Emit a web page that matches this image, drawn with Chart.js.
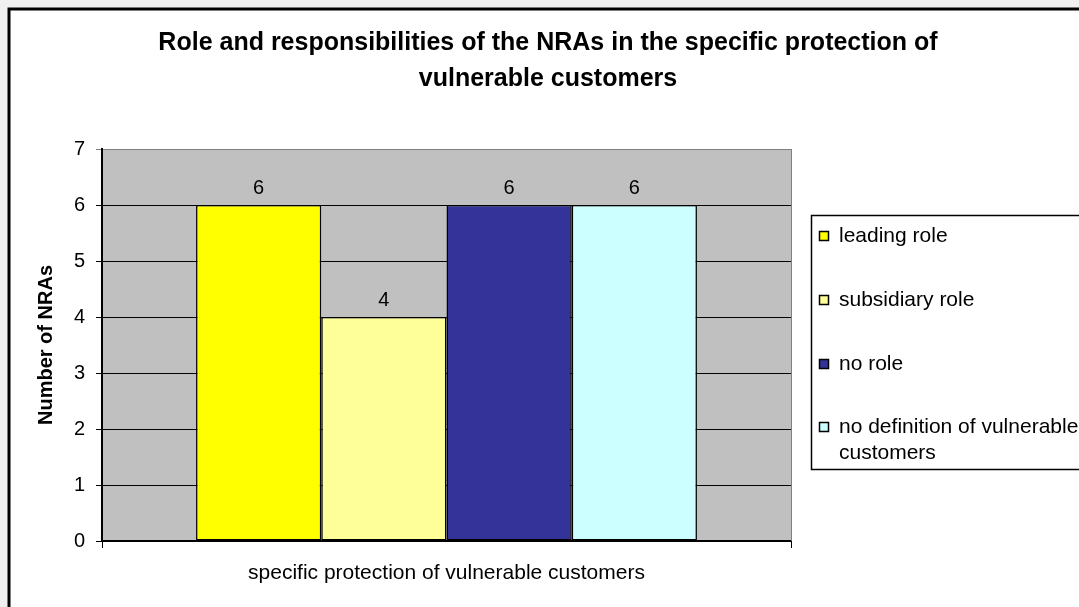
<!DOCTYPE html>
<html>
<head>
<meta charset="utf-8">
<script src="https://cdn.jsdelivr.net/npm/chart.js@4/dist/chart.umd.min.js"></script>
<style>
  html, body { margin: 0; padding: 0; background: #f0f0f0; }
  #wrap { width: 1079px; height: 607px; }
</style>
</head>
<body>
<div id="wrap"><canvas id="c" width="1079" height="607"></canvas></div>
<script>
// ---- data ----
const categories = ['specific protection of vulnerable customers'];
const seriesNames = ['leading role', 'subsidiary role', 'no role', 'no definition of vulnerable customers'];
const leadingRole = [6];
const subsidiaryRole = [4];
const noRole = [6];
const noDefinition = [6];
const yAxisMin = 0;
const yAxisMax = 7;
const titleLines = ['Role and responsibilities of the NRAs in the specific protection of', 'vulnerable customers'];
const yAxisTitle = 'Number of NRAs';

const seriesValues = [leadingRole, subsidiaryRole, noRole, noDefinition];
const seriesColors = ['#FFFF00', '#FFFF99', '#333399', '#CCFFFF'];
const FONT = "'Liberation Sans', Arial, sans-serif";

const framePlugin = {
  id: 'frame',
  beforeDraw(chart) {
    const ctx = chart.ctx;
    const W = chart.width, H = chart.height;
    ctx.save();
    ctx.fillStyle = '#f0f0f0';
    ctx.fillRect(0, 0, W, H);
    ctx.fillStyle = '#ffffff';
    ctx.fillRect(9, 9, W - 9, H - 9);
    ctx.strokeStyle = '#000000';
    ctx.lineWidth = 3;
    ctx.beginPath();
    ctx.moveTo(9, H + 2);
    ctx.lineTo(9, 9);
    ctx.lineTo(W + 2, 9);
    ctx.stroke();
    const a = chart.chartArea;
    ctx.fillStyle = '#C0C0C0';
    ctx.fillRect(a.left, a.top, a.right - a.left, a.bottom - a.top);
    ctx.restore();
  },
  beforeDatasetsDraw(chart) {
    const ctx = chart.ctx;
    const a = chart.chartArea;
    ctx.save();
    ctx.strokeStyle = '#808080';
    ctx.lineWidth = 1;
    ctx.beginPath();
    ctx.moveTo(Math.round(a.right) + 0.5, a.top);
    ctx.lineTo(Math.round(a.right) + 0.5, a.bottom);
    ctx.stroke();
    ctx.restore();
  },
  afterDatasetsDraw(chart) {
    const ctx = chart.ctx;
    ctx.save();
    ctx.font = '20px ' + FONT;
    ctx.fillStyle = '#000';
    ctx.textAlign = 'center';
    ctx.textBaseline = 'middle';
    chart.data.datasets.forEach((ds, i) => {
      const meta = chart.getDatasetMeta(i);
      meta.data.forEach((bar, j) => {
        ctx.fillText(String(ds.data[j]), bar.x, bar.y - 17);
      });
    });
    ctx.restore();
  },
  afterDraw(chart) {
    const ctx = chart.ctx;
    ctx.save();
    // title
    ctx.font = 'bold 25px ' + FONT;
    ctx.fillStyle = '#000';
    ctx.textAlign = 'center';
    ctx.textBaseline = 'middle';
    titleLines.forEach((t, i) => ctx.fillText(t, 548, 43 + i * 36));
    // legend
    const lx = 811, ly = 215, lh = 254;
    ctx.fillStyle = '#ffffff';
    ctx.fillRect(lx, ly, chart.width - lx + 5, lh);
    ctx.strokeStyle = '#000';
    ctx.lineWidth = 1.5;
    ctx.strokeRect(lx + 0.5, ly + 0.5, chart.width - lx + 5, lh);
    ctx.font = '21px ' + FONT;
    ctx.textAlign = 'left';
    const textX = 839;
    const maxW = chart.width - textX;
    const rowY = [236, 300, 364, 427];
    chart.data.datasets.forEach((ds, i) => {
      const words = ds.label.split(' ');
      const lines = [];
      let cur = '';
      words.forEach(w => {
        const test = cur ? cur + ' ' + w : w;
        if (ctx.measureText(test).width > maxW && cur) { lines.push(cur); cur = w; }
        else cur = test;
      });
      lines.push(cur);
      const y = rowY[i];
      ctx.fillStyle = ds.backgroundColor;
      ctx.fillRect(819, y - 5, 10, 10);
      ctx.strokeStyle = '#000';
      ctx.lineWidth = 1.5;
      ctx.strokeRect(819.5, y - 4.5, 9, 9);
      ctx.fillStyle = '#000';
      lines.forEach((ln, k) => ctx.fillText(ln, textX, y + k * 26));
    });
    ctx.restore();
  }
};

const datasets = seriesNames.map((name, i) => ({
  label: name,
  data: seriesValues[i],
  backgroundColor: seriesColors[i],
  borderColor: '#000000',
  borderWidth: 1.5,
  borderSkipped: false,
  categoryPercentage: 0.727,
  barPercentage: 1.0
}));

new Chart(document.getElementById('c'), {
  type: 'bar',
  data: { labels: categories, datasets },
  options: {
    responsive: false,
    animation: false,
    devicePixelRatio: 1,
    layout: { padding: { top: 149, right: 288, left: 0, bottom: 0 } },
    plugins: {
      legend: { display: false },
      title: { display: false },
      tooltip: { enabled: false }
    },
    scales: {
      x: {
        offset: true,
        grid: { offset: true, drawOnChartArea: false, tickLength: 7, color: '#000', lineWidth: 1 },
        border: { color: '#000', width: 2 },
        ticks: { color: '#000', font: { family: FONT, size: 21 }, padding: 13, maxRotation: 0, autoSkip: false },
        afterFit(s) { s.height = 66; }
      },
      y: {
        min: yAxisMin,
        max: yAxisMax,
        ticks: { stepSize: 1, color: '#000', font: { family: FONT, size: 20 }, padding: 11 },
        grid: {
          color: (c) => (c.tick && c.tick.value === yAxisMax ? '#808080' : '#000'),
          lineWidth: 1,
          tickLength: 6
        },
        border: { color: '#000', width: 2 },
        title: { display: true, text: yAxisTitle, color: '#000', font: { family: FONT, size: 20, weight: 'bold' }, padding: { top: 34, bottom: 0 } },
        afterFit(s) { s.width = 102; }
      }
    }
  },
  plugins: [framePlugin]
});
</script>
</body>
</html>
